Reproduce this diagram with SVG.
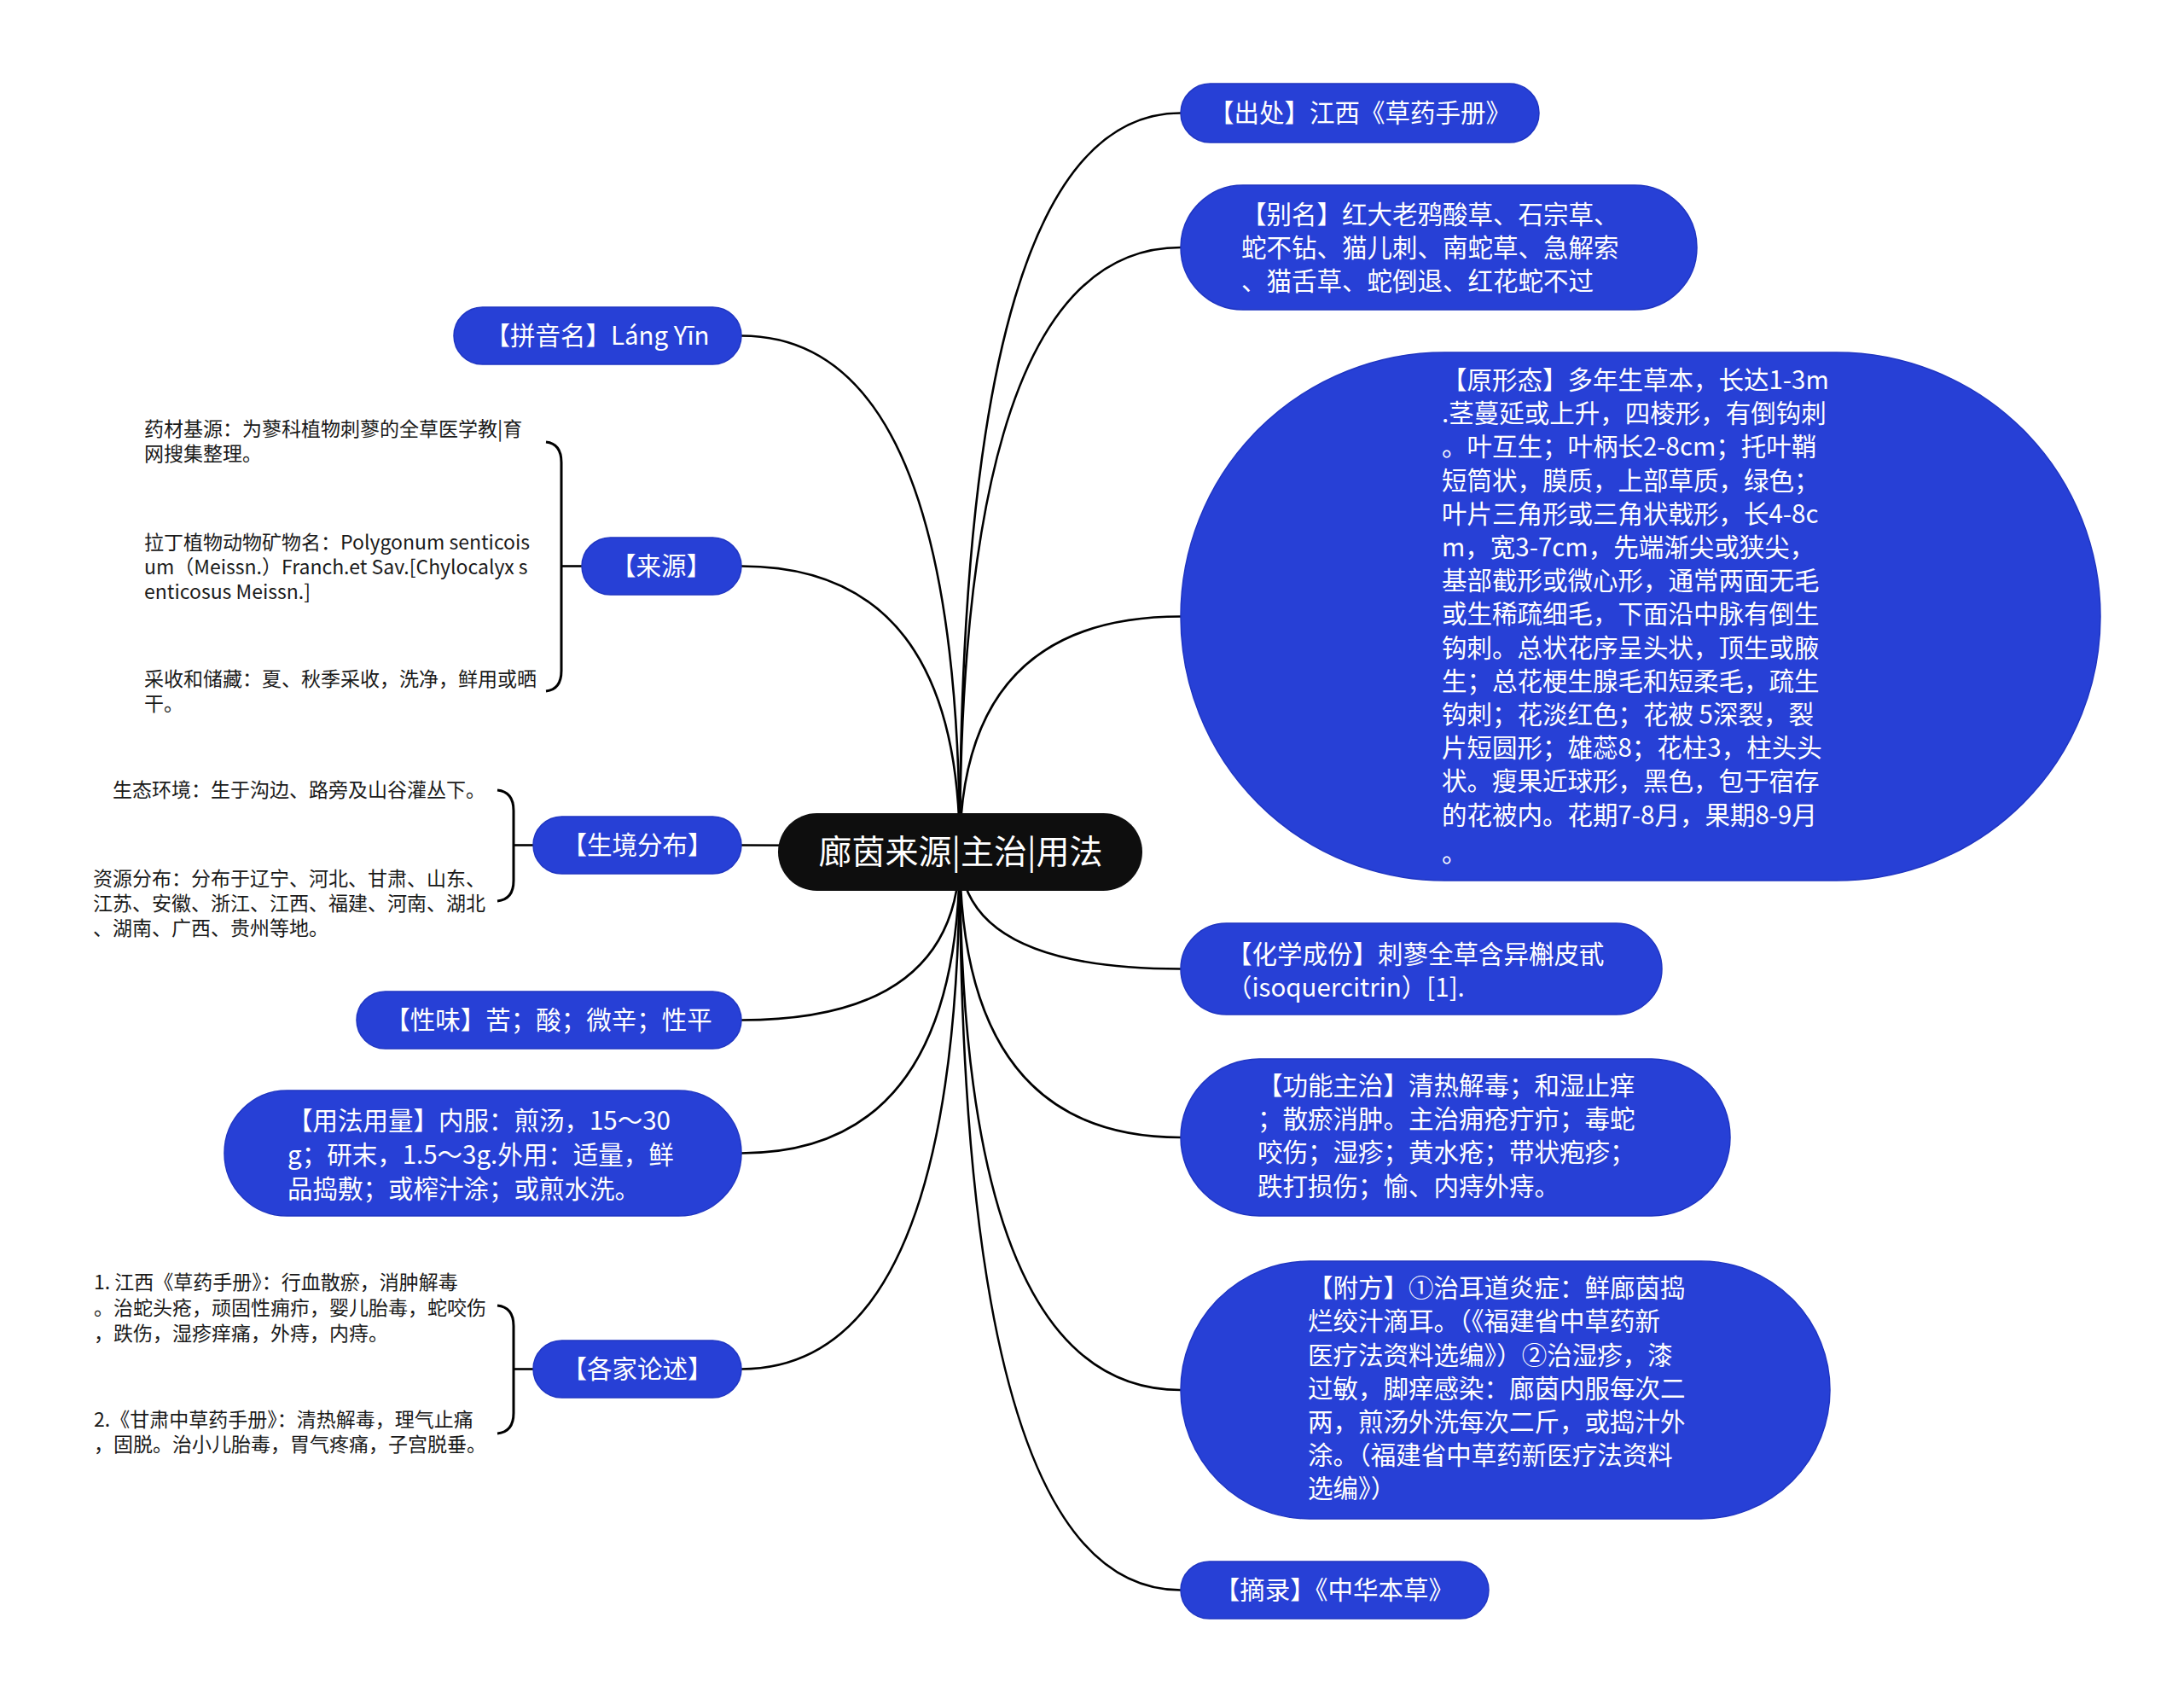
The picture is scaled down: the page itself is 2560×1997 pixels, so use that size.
<svg xmlns="http://www.w3.org/2000/svg" width="2560" height="1997" viewBox="0 0 2560 1997">
<style>
.n{fill:#2740d6;stroke:#1f35c2;stroke-width:1.5}
.root{fill:#0e0e0e}
.t{font-family:"Noto Sans CJK SC","Liberation Sans",sans-serif;font-size:29.5px;fill:#ffffff}
.tr{font-family:"Noto Sans CJK SC","Liberation Sans",sans-serif;font-size:39px;fill:#ffffff}
.c{font-family:"Noto Sans CJK SC","Liberation Sans",sans-serif;font-size:23px;fill:#1a1a1a}
.m{text-anchor:middle}
.l{fill:none;stroke:#000000;stroke-width:2.6}
.b{fill:none;stroke:#000000;stroke-width:3}
</style>
<rect width="2560" height="1997" fill="#ffffff"/>
<g id="connectors">
<path class="l" d="M1125 998 Q1125 132.5 1384 132.5"/>
<path class="l" d="M1125 998 Q1125 290 1384 290"/>
<path class="l" d="M1125 998 Q1125 722.5 1384 722.5"/>
<path class="l" d="M1125 998 Q1125 1135.5 1384 1135.5"/>
<path class="l" d="M1125 998 Q1125 1333 1384 1333"/>
<path class="l" d="M1125 998 Q1125 1629 1384 1629"/>
<path class="l" d="M1125 998 Q1125 1863.5 1384 1863.5"/>
<path class="l" d="M1125 998 Q1125 393.5 869 393.5"/>
<path class="l" d="M1125 998 Q1125 663.5 869 663.5"/>
<path class="l" d="M1125 998 Q1125 990.5 869 990.5"/>
<path class="l" d="M1125 998 Q1125 1195.5 869 1195.5"/>
<path class="l" d="M1125 998 Q1125 1351.5 869 1351.5"/>
<path class="l" d="M1125 998 Q1125 1604.5 869 1604.5"/>
<path class="l" d="M682 663.5 L658 663.5"/>
<path class="b" d="M640 518 Q658 520 658 542 L658 786 Q658 808 640 810"/>
<path class="l" d="M625 990.5 L602 990.5"/>
<path class="b" d="M583 926 Q602 928 602 950 L602 1032 Q602 1054 583 1056"/>
<path class="l" d="M625 1604.5 L602 1604.5"/>
<path class="b" d="M583 1530 Q602 1532 602 1554 L602 1656 Q602 1678 583 1680"/>
</g>
<g id="root">
<rect class="root" x="912" y="953" width="427" height="91" rx="45.5"/>
<text class="tr m" x="1126" y="1012">廊茵来源|主治|用法</text>
</g>
<g id="n-chuchu">
<rect class="n" x="1384" y="98" width="420" height="69" rx="34.5"/>
<text class="t m" x="1594" y="143">【出处】江西《草药手册》</text>
</g>
<g id="n-bieming">
<rect class="n" x="1384" y="217" width="605" height="146" rx="73"/>
<text class="t" x="1455" y="262">【别名】红大老鸦酸草、石宗草、</text>
<text class="t" x="1455" y="301">蛇不钻、猫儿刺、南蛇草、急解索</text>
<text class="t" x="1455" y="340">、猫舌草、蛇倒退、红花蛇不过</text>
</g>
<g id="n-yuanxingtai">
<rect class="n" x="1384" y="413" width="1078" height="619" rx="309.5"/>
<text class="t" x="1690" y="456">【原形态】多年生草本，长达1-3m</text>
<text class="t" x="1690" y="495">.茎蔓延或上升，四棱形，有倒钩刺</text>
<text class="t" x="1690" y="534">。叶互生；叶柄长2-8cm；托叶鞘</text>
<text class="t" x="1690" y="574">短筒状，膜质，上部草质，绿色；</text>
<text class="t" x="1690" y="613">叶片三角形或三角状戟形，长4-8c</text>
<text class="t" x="1690" y="652">m，宽3-7cm，先端渐尖或狭尖，</text>
<text class="t" x="1690" y="691">基部截形或微心形，通常两面无毛</text>
<text class="t" x="1690" y="730">或生稀疏细毛，下面沿中脉有倒生</text>
<text class="t" x="1690" y="770">钩刺。总状花序呈头状，顶生或腋</text>
<text class="t" x="1690" y="809">生；总花梗生腺毛和短柔毛，疏生</text>
<text class="t" x="1690" y="848">钩刺；花淡红色；花被 5深裂，裂</text>
<text class="t" x="1690" y="887">片短圆形；雄蕊8；花柱3，柱头头</text>
<text class="t" x="1690" y="926">状。瘦果近球形，黑色，包于宿存</text>
<text class="t" x="1690" y="966">的花被内。花期7-8月，果期8-9月</text>
<text class="t" x="1690" y="1010">。</text>
</g>
<g id="n-huaxue">
<rect class="n" x="1384" y="1082" width="564" height="107" rx="53.5"/>
<text class="t" x="1438" y="1129">【化学成份】刺蓼全草含异槲皮甙</text>
<text class="t" x="1438" y="1168">（isoquercitrin）[1].</text>
</g>
<g id="n-gongneng">
<rect class="n" x="1384" y="1241" width="644" height="184" rx="92"/>
<text class="t" x="1474" y="1283">【功能主治】清热解毒；和湿止痒</text>
<text class="t" x="1474" y="1322">；散瘀消肿。主治痈疮疔疖；毒蛇</text>
<text class="t" x="1474" y="1361">咬伤；湿疹；黄水疮；带状疱疹；</text>
<text class="t" x="1474" y="1401">跌打损伤；愉、内痔外痔。</text>
</g>
<g id="n-fufang">
<rect class="n" x="1384" y="1478" width="761" height="302" rx="151"/>
<text class="t" x="1533" y="1520">【附方】①治耳道炎症：鲜廊茵捣</text>
<text class="t" x="1533" y="1559">烂绞汁滴耳。（《福建省中草药新</text>
<text class="t" x="1533" y="1599">医疗法资料选编》）②治湿疹，漆</text>
<text class="t" x="1533" y="1638">过敏，脚痒感染：廊茵内服每次二</text>
<text class="t" x="1533" y="1677">两，煎汤外洗每次二斤，或捣汁外</text>
<text class="t" x="1533" y="1716">涂。（福建省中草药新医疗法资料</text>
<text class="t" x="1533" y="1755">选编》）</text>
</g>
<g id="n-zhailu">
<rect class="n" x="1384" y="1830" width="361" height="67" rx="33.5"/>
<text class="t m" x="1564" y="1874">【摘录】《中华本草》</text>
</g>
<g id="n-pinyin">
<rect class="n" x="532" y="360" width="337" height="67" rx="33.5"/>
<text class="t m" x="700" y="404">【拼音名】Láng Yīn</text>
</g>
<g id="n-laiyuan">
<rect class="n" x="682" y="630" width="187" height="67" rx="33.5"/>
<text class="t m" x="775" y="674">【来源】</text>
</g>
<g id="n-laiyuan-children">
<text class="c" x="169" y="511">药材基源：为蓼科植物刺蓼的全草医学教|育</text>
<text class="c" x="169" y="540">网搜集整理。</text>
<text class="c" x="169" y="644">拉丁植物动物矿物名：Polygonum senticois</text>
<text class="c" x="169" y="673">um（Meissn.）Franch.et Sav.[Chylocalyx s</text>
<text class="c" x="169" y="702">enticosus Meissn.]</text>
<text class="c" x="169" y="804">采收和储藏：夏、秋季采收，洗净，鲜用或晒</text>
<text class="c" x="169" y="833">干。</text>
</g>
<g id="n-shengjing">
<rect class="n" x="625" y="957" width="244" height="67" rx="33.5"/>
<text class="t m" x="747" y="1001">【生境分布】</text>
</g>
<g id="n-shengjing-children">
<text class="c" x="132" y="934">生态环境：生于沟边、路旁及山谷灌丛下。</text>
<text class="c" x="109" y="1038">资源分布：分布于辽宁、河北、甘肃、山东、</text>
<text class="c" x="109" y="1067">江苏、安徽、浙江、江西、福建、河南、湖北</text>
<text class="c" x="109" y="1096">、湖南、广西、贵州等地。</text>
</g>
<g id="n-xingwei">
<rect class="n" x="418" y="1162" width="451" height="67" rx="33.5"/>
<text class="t m" x="643" y="1206">【性味】苦；酸；微辛；性平</text>
</g>
<g id="n-yongfa">
<rect class="n" x="263" y="1278" width="606" height="147" rx="73.5"/>
<text class="t" x="337" y="1324">【用法用量】内服：煎汤，15～30</text>
<text class="t" x="337" y="1364">g；研末，1.5～3g.外用：适量，鲜</text>
<text class="t" x="337" y="1404">品捣敷；或榨汁涂；或煎水洗。</text>
</g>
<g id="n-gejia">
<rect class="n" x="625" y="1571" width="244" height="67" rx="33.5"/>
<text class="t m" x="747" y="1615">【各家论述】</text>
</g>
<g id="n-gejia-children">
<text class="c" x="110" y="1511">1. 江西《草药手册》：行血散瘀，消肿解毒</text>
<text class="c" x="110" y="1541">。治蛇头疮，顽固性痈疖，婴儿胎毒，蛇咬伤</text>
<text class="c" x="110" y="1571">，跌伤，湿疹痒痛，外痔，内痔。</text>
<text class="c" x="110" y="1672">2.《甘肃中草药手册》：清热解毒，理气止痛</text>
<text class="c" x="110" y="1701">，固脱。治小儿胎毒，胃气疼痛，子宫脱垂。</text>
</g>
</svg>
